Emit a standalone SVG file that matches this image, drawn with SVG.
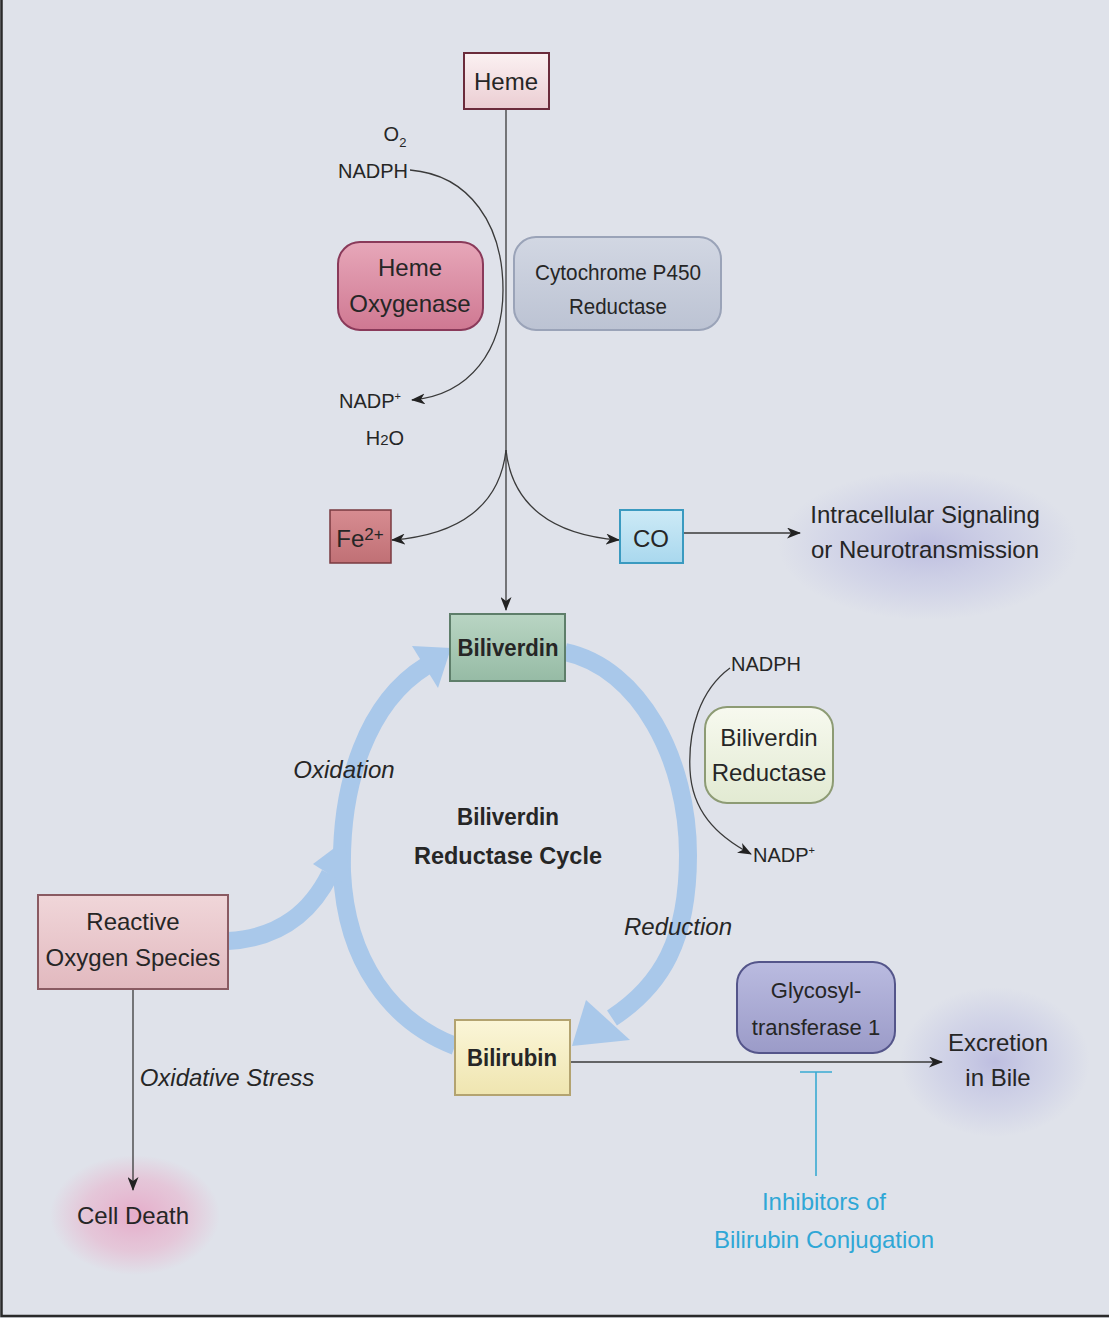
<svg xmlns="http://www.w3.org/2000/svg" width="1109" height="1318" viewBox="0 0 1109 1318">
<defs>
<style>
text{font-family:"Liberation Sans",Arial,sans-serif;fill:#262626;text-anchor:middle}
.t24{font-size:24px}
.t22{font-size:22px}
.t20{font-size:20px}
.b{font-weight:bold}
.i{font-style:italic}
.ln{fill:none;stroke:#3a3a3a;stroke-width:1.3}
.band{fill:none;stroke:#a9c8ea;stroke-width:18;stroke-linecap:butt}
.head{fill:#a9c8ea}
.cy{fill:#2fa7d6}
</style>
<marker id="ah" viewBox="0 0 14 11" refX="13" refY="5.5" markerWidth="14" markerHeight="11" markerUnits="userSpaceOnUse" orient="auto">
<path d="M0,0 L14,5.5 L0,11 L4,5.5 z" fill="#222"/>
</marker>
<linearGradient id="gHeme" x1="0" y1="0" x2="0" y2="1"><stop offset="0" stop-color="#fbf1f2"/><stop offset="1" stop-color="#ebcdd2"/></linearGradient>
<linearGradient id="gHO" x1="0" y1="0" x2="0" y2="1"><stop offset="0" stop-color="#e7a7b9"/><stop offset="1" stop-color="#cf7892"/></linearGradient>
<linearGradient id="gCyt" x1="0" y1="0" x2="0" y2="1"><stop offset="0" stop-color="#d2d7e3"/><stop offset="1" stop-color="#bcc3d3"/></linearGradient>
<linearGradient id="gFe" x1="0" y1="0" x2="0" y2="1"><stop offset="0" stop-color="#d78c91"/><stop offset="1" stop-color="#c07075"/></linearGradient>
<linearGradient id="gCO" x1="0" y1="0" x2="0" y2="1"><stop offset="0" stop-color="#cdeaf6"/><stop offset="1" stop-color="#a9d8ee"/></linearGradient>
<linearGradient id="gBv" x1="0" y1="0" x2="0" y2="1"><stop offset="0" stop-color="#b9d5c3"/><stop offset="1" stop-color="#96bba5"/></linearGradient>
<linearGradient id="gBR" x1="0" y1="0" x2="0" y2="1"><stop offset="0" stop-color="#f7f9ef"/><stop offset="1" stop-color="#e2ead2"/></linearGradient>
<linearGradient id="gROS" x1="0" y1="0" x2="0" y2="1"><stop offset="0" stop-color="#f0d6d9"/><stop offset="1" stop-color="#e2b9bf"/></linearGradient>
<linearGradient id="gBr" x1="0" y1="0" x2="0" y2="1"><stop offset="0" stop-color="#fbf6d8"/><stop offset="1" stop-color="#efe5b0"/></linearGradient>
<linearGradient id="gGT" x1="0" y1="0" x2="0" y2="1"><stop offset="0" stop-color="#babbe0"/><stop offset="1" stop-color="#9b9bc8"/></linearGradient>
<radialGradient id="glowPink"><stop offset="0" stop-color="#e6a6c6" stop-opacity="0.9"/><stop offset="0.6" stop-color="#e8b4cd" stop-opacity="0.6"/><stop offset="1" stop-color="#e8b4cd" stop-opacity="0"/></radialGradient>
<radialGradient id="glowBlue"><stop offset="0" stop-color="#b7b7de" stop-opacity="0.85"/><stop offset="0.6" stop-color="#c4c6e4" stop-opacity="0.5"/><stop offset="1" stop-color="#c4c6e4" stop-opacity="0"/></radialGradient>
</defs>
<rect x="0" y="0" width="1109" height="1318" fill="#dfe2ea"/>
<path d="M1.5,0 V1316 H1109" fill="none" stroke="#2a2a2a" stroke-width="2.5"/>

<!-- glows -->
<ellipse cx="928" cy="545" rx="150" ry="75" fill="url(#glowBlue)"/>
<ellipse cx="995" cy="1062" rx="95" ry="75" fill="url(#glowBlue)"/>
<ellipse cx="135" cy="1215" rx="85" ry="60" fill="url(#glowPink)"/>

<!-- connectors -->
<g id="connectors">
<path class="ln" d="M506,109 V610" marker-end="url(#ah)"/>
<path class="ln" d="M410,170 C470,175 503,225 503,290 C503,350 470,395 412,400" marker-end="url(#ah)"/>
<path class="ln" d="M506,450 C500,505 460,535 392,540" marker-end="url(#ah)"/>
<path class="ln" d="M506,450 C512,505 552,535 619,540" marker-end="url(#ah)"/>
<path class="ln" d="M683,533 H800" marker-end="url(#ah)"/>
<path class="ln" d="M730,668 C700,690 688,730 690,770 C692,810 715,835 751,854" marker-end="url(#ah)"/>
<path class="ln" d="M133,989 V1190" marker-end="url(#ah)"/>
<path class="ln" d="M570,1062 H942" marker-end="url(#ah)"/>
<path d="M816,1176 V1072 M800,1072 H832" fill="none" stroke="#3aaad2" stroke-width="1.6"/>
<!-- cycle bands -->
<path class="band" d="M565,652 C640,668 688,760 688,855 C688,940 662,985 612,1018"/>
<polygon class="head" points="572,1046 586,1000 630,1040"/>
<path class="band" d="M455,1046 C392,1022 346,962 342,872 C340,782 368,702 426,666"/>
<polygon class="head" points="451,648 412,646 438,688"/>
<path class="band" d="M228,941 C282,938 312,910 330,874"/>
<polygon class="head" points="345,840 313,864 351,888"/>
</g>

<g id="heme"><rect x="464" y="53" width="85" height="56" fill="url(#gHeme)" stroke="#6b2b3b" stroke-width="2"/><text class="t24" x="506" y="90">Heme</text></g>
<g id="o2"><text class="t20" x="395" y="141">O<tspan font-size="13" dy="6">2</tspan></text><text class="t20" x="373" y="178">NADPH</text></g>
<g id="hemeOxygenase"><rect x="338" y="242" width="145" height="88" rx="22" fill="url(#gHO)" stroke="#8a3a5a" stroke-width="2"/><text class="t24" x="410" y="276">Heme</text><text class="t24" x="410" y="312">Oxygenase</text></g>
<g id="cyp450"><rect x="514" y="237" width="207" height="93" rx="22" fill="url(#gCyt)" stroke="#9aa3b8" stroke-width="2"/><text class="t22" x="618" y="280" textLength="166" lengthAdjust="spacingAndGlyphs">Cytochrome P450</text><text class="t22" x="618" y="314" textLength="98" lengthAdjust="spacingAndGlyphs">Reductase</text></g>
<g id="nadp1"><text class="t20" x="370" y="408">NADP<tspan font-size="11" dy="-8">+</tspan></text><text class="t20" x="385" y="445">H<tspan font-size="15">2</tspan>O</text></g>
<g id="fe"><rect x="330" y="510" width="61" height="53" fill="url(#gFe)" stroke="#7a3a40" stroke-width="1.5"/><text class="t24" x="360" y="547">Fe<tspan font-size="17" dy="-7">2+</tspan></text></g>
<g id="co"><rect x="620" y="510" width="63" height="53" fill="url(#gCO)" stroke="#3a9ac0" stroke-width="2"/><text class="t24" x="651" y="547">CO</text></g>
<g id="signal"><text class="t24" x="925" y="523">Intracellular Signaling</text><text class="t24" x="925" y="558">or Neurotransmission</text></g>
<g id="biliverdin"><rect x="450" y="614" width="115" height="67" fill="url(#gBv)" stroke="#5e7e6a" stroke-width="2"/><text class="t24 b" x="508" y="656" textLength="101" lengthAdjust="spacingAndGlyphs">Biliverdin</text></g>
<g id="nadph2"><text class="t20" x="766" y="671">NADPH</text></g>
<g id="bvr"><rect x="705" y="707" width="128" height="96" rx="22" fill="url(#gBR)" stroke="#8d9b74" stroke-width="2"/><text class="t24" x="769" y="746">Biliverdin</text><text class="t24" x="769" y="781">Reductase</text></g>
<g id="nadp2"><text class="t20" x="784" y="862">NADP<tspan font-size="11" dy="-8">+</tspan></text></g>
<g id="cycleLabel"><text class="t24 b" x="508" y="825" textLength="102" lengthAdjust="spacingAndGlyphs">Biliverdin</text><text class="t24 b" x="508" y="864" textLength="188" lengthAdjust="spacingAndGlyphs">Reductase Cycle</text></g>
<g id="oxidation"><text class="t24 i" x="344" y="778">Oxidation</text></g>
<g id="reduction"><text class="t24 i" x="678" y="935">Reduction</text></g>
<g id="ros"><rect x="38" y="895" width="190" height="94" fill="url(#gROS)" stroke="#8a5a62" stroke-width="2"/><text class="t24" x="133" y="930">Reactive</text><text class="t24" x="133" y="966">Oxygen Species</text></g>
<g id="stress"><text class="t24 i" x="227" y="1086">Oxidative Stress</text></g>
<g id="celldeath"><text class="t24" x="133" y="1224">Cell Death</text></g>
<g id="bilirubin"><rect x="455" y="1020" width="115" height="75" fill="url(#gBr)" stroke="#b3a370" stroke-width="2"/><text class="t24 b" x="512" y="1066" textLength="90" lengthAdjust="spacingAndGlyphs">Bilirubin</text></g>
<g id="gt1"><rect x="737" y="962" width="158" height="91" rx="22" fill="url(#gGT)" stroke="#54558a" stroke-width="2"/><text class="t22" x="816" y="998">Glycosyl-</text><text class="t22" x="816" y="1035">transferase 1</text></g>
<g id="excretion"><text class="t24" x="998" y="1051">Excretion</text><text class="t24" x="998" y="1086">in Bile</text></g>
<g id="inhibitors"><text class="t24 cy" x="824" y="1210">Inhibitors of</text><text class="t24 cy" x="824" y="1248">Bilirubin Conjugation</text></g>
</svg>
